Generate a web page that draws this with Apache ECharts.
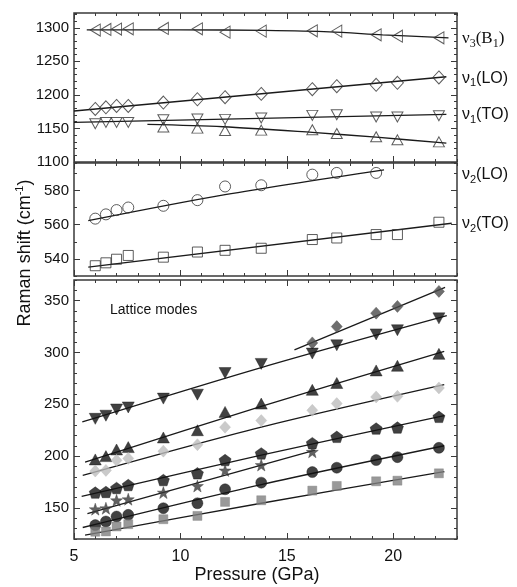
<!DOCTYPE html>
<html>
<head>
<meta charset="utf-8">
<script src="https://cdn.jsdelivr.net/npm/echarts@6/dist/echarts.min.js"></script>
<style>
  html, body { margin: 0; padding: 0; background: #fff; }
  #chart { width: 517px; height: 587px; }
</style>
</head>
<body>
<div id="chart"></div>
<script>
// pressures (GPa) of the measured spectra
const pressure = [6.0, 6.5, 7.0, 7.55, 9.2, 10.8, 12.1, 13.8, 16.2, 17.35, 19.2, 20.2, 22.15];
const pressureLate = [9.2, 10.8, 12.1, 13.8, 16.2, 17.35, 19.2, 20.2, 22.15];
const pressureHigh = [16.2, 17.35, 19.2, 20.2, 22.15];

// top panel: internal stretching modes
const v3B1 = [1296.5, 1297.5, 1298, 1298.5, 1299, 1298.5, 1293.5, 1295, 1295.5, 1295, 1289.5, 1287.5, 1285];
const v1LO = [1179, 1181.5, 1183.5, 1183.5, 1188.5, 1193.5, 1196.5, 1201.5, 1208.5, 1213, 1215, 1218, 1226];
const v1TO = [1157, 1159, 1159, 1159, 1163, 1164, 1163.5, 1165.5, 1169.5, 1170.5, 1167, 1167, 1169];
const v1TOsplit = [1152, 1150.5, 1147, 1147.5, 1148, 1142.5, 1137.5, 1133, 1130];

// middle panel: bending modes
const v2LO = [563.5, 566, 568.5, 570, 571, 574.3, 582.3, 583, 589.2, 590.2, 590.2];
const v2TO = [536, 537.7, 539.8, 542, 541, 544, 545, 546.2, 551.3, 552.2, 554.2, 554.2, 561.4];

// bottom panel: lattice modes
const latDiamondDark = [309.3, 325, 338, 344.5, 359];
const latDown = [236, 239, 245, 247, 255.5, 259.3, 280.2, 289, 299, 307, 317.5, 321.5, 333];
const latUp = [196.8, 200, 206.4, 208.7, 218, 225, 242.7, 250.7, 264, 270.6, 282.7, 287.2, 298.7];
const latDiamondLight = [185.6, 186.2, 195.9, 197.8, 204.8, 211, 227.9, 234.3, 244.2, 250.7, 257.1, 257.7, 265.8];
const latPent = [164.8, 165.4, 169.2, 172.1, 176.9, 183.4, 196.2, 202.6, 212.5, 218.6, 226.6, 227.6, 237.9];
const latStar = [148.8, 149.7, 157.4, 158.4, 164.8, 171.2, 186.2, 191.4, 204.2];
const latCircle = [133.4, 136.9, 141.7, 143.3, 149.7, 154.5, 168, 174.4, 184.6, 188.8, 196.2, 199, 208];
const latSquare = [127, 127.3, 132.1, 134.3, 139.1, 142.3, 155.8, 157.4, 166.7, 171.2, 175.7, 176.3, 183.4];

// fitted curves, [pressure, shift]
const fitV3B1 = [[5.6, 1297], [10, 1297], [14, 1296], [17, 1294], [19.5, 1289.5], [22.6, 1285]];
const fitV1LO = [[5, 1176], [22.5, 1227]];
const fitV1TO = [[5, 1159], [22.5, 1171]];
const fitV1TOsplit = [[8.45, 1156], [12, 1152.5], [16.2, 1144], [19.2, 1137], [22.5, 1128]];
const fitV2LO = [[5.67, 562.3], [12.1, 577.5], [19.57, 592]];
const fitV2TO = [[5.67, 535.2], [22.75, 560.8]];
const fitDiamondDark = [[15.36, 302.6], [22.44, 362.9]];
const fitDown = [[5.39, 233], [13.8, 285.5], [22.52, 335.6]];
const fitUp = [[5.52, 194.2], [13.8, 248], [22.4, 301]];
const fitDiamondLight = [[5.41, 181.4], [13.8, 228], [22.4, 269]];
const fitPent = [[5.36, 161.2], [13.8, 201], [22.4, 239.1]];
const fitStar = [[5.63, 144.6], [16.33, 205.8]];
const fitCircle = [[5.41, 131.1], [13.8, 172.5], [22.4, 210]];
const fitSquare = [[5.52, 123.8], [13.8, 154.5], [22.4, 185]];

// axis ticks
const xLabels = [5, 10, 15, 20];
const yTopLabels = [1100, 1150, 1200, 1250, 1300];
const yMidLabels = [540, 560, 580];
const yBotLabels = [150, 200, 250, 300, 350];

// mode names at the right side
const sideText = ['ν{s|3}(B{s|1})', 'ν{s|1}(LO)', 'ν{s|1}(TO)', 'ν{s|2}(LO)', 'ν{s|2}(TO)'];
const sideGrid = [0, 0, 0, 1, 1];
const sideValue = [1284, 1225, 1170, 589, 560.5];

const FONT = '"Liberation Sans", Arial, sans-serif';
const SERIF = '"Liberation Serif", "Times New Roman", serif';
const AX = '#3a3a3a';

const chart = echarts.init(document.getElementById('chart'));

const grids = [
  { left: 74, right: 60, top: 13, height: 149 },
  { left: 74, right: 60, top: 163, height: 113 },
  { left: 74, right: 60, top: 280, height: 259 }
].map(g => Object.assign(g, { show: true, borderColor: AX, borderWidth: 1.5, backgroundColor: 'transparent' }));

const yDefs = [
  { min: 1100, max: 1322, minor: 10, labels: yTopLabels },
  { min: 530, max: 596, minor: 10, labels: yMidLabels },
  { min: 120, max: 370, minor: 10, labels: yBotLabels }
];

const xAxis = [];
const yAxis = [];
for (let g = 0; g < 3; g++) {
  const bx = { type: 'value', gridIndex: g, min: 5, max: 23, splitLine: { show: false }, axisLine: { show: false } };
  // minor ticks, bottom (carries the labels on the last panel)
  xAxis.push(Object.assign({}, bx, {
    position: 'bottom', interval: 1,
    axisTick: { inside: true, length: 3, lineStyle: { color: AX } },
    axisLabel: g === 2 ? { customValues: xLabels, fontSize: 16, color: '#111', margin: 10, fontFamily: FONT } : { show: false }
  }));
  xAxis.push(Object.assign({}, bx, {
    position: 'bottom',
    axisTick: { inside: true, length: 6, customValues: xLabels, lineStyle: { color: AX } },
    axisLabel: { show: false }
  }));
  xAxis.push(Object.assign({}, bx, {
    position: 'top', interval: 1,
    axisTick: { inside: true, length: 3, lineStyle: { color: AX } },
    axisLabel: { show: false }
  }));
  xAxis.push(Object.assign({}, bx, {
    position: 'top',
    axisTick: { inside: true, length: 6, customValues: xLabels, lineStyle: { color: AX } },
    axisLabel: { show: false }
  }));

  const d = yDefs[g];
  const by = { type: 'value', gridIndex: g, min: d.min, max: d.max, splitLine: { show: false }, axisLine: { show: false } };
  yAxis.push(Object.assign({}, by, {
    position: 'left', interval: d.minor,
    axisTick: { inside: true, length: 3, lineStyle: { color: AX } },
    axisLabel: { customValues: d.labels, fontSize: 15, color: '#111', margin: 5, fontFamily: FONT, formatter: v => String(v) }
  }));
  yAxis.push(Object.assign({}, by, {
    position: 'left',
    axisTick: { inside: true, length: 6, customValues: d.labels, lineStyle: { color: AX } },
    axisLabel: { show: false }
  }));
  yAxis.push(Object.assign({}, by, {
    position: 'right', interval: d.minor,
    axisTick: { inside: true, length: 3, lineStyle: { color: AX } },
    axisLabel: { show: false }
  }));
  yAxis.push(Object.assign({}, by, {
    position: 'right',
    axisTick: { inside: true, length: 6, customValues: d.labels, lineStyle: { color: AX } },
    axisLabel: { show: false }
  }));
}

const pentagon = 'path://M0,-10L9.51,-3.09L5.88,8.09L-5.88,8.09L-9.51,-3.09Z';
const star = 'path://M0,-10L2.35,-3.24L9.51,-3.09L3.8,1.24L5.88,8.09L0,4L-5.88,8.09L-3.8,1.24L-9.51,-3.09L-2.35,-3.24Z';

function pts(xs, ys) {
  return ys.map((y, i) => [xs[i], y]);
}

function openMarks(g, xs, ys, symbol, size, rotate) {
  return {
    type: 'scatter', xAxisIndex: g * 4, yAxisIndex: g * 4, data: pts(xs, ys),
    symbol: symbol, symbolSize: size, symbolRotate: rotate || 0, z: 3,
    itemStyle: { color: 'rgba(0,0,0,0)', borderColor: '#333', borderWidth: 1 },
    emphasis: { disabled: true }
  };
}

function filledMarks(g, xs, ys, symbol, size, color, rotate) {
  return {
    type: 'scatter', xAxisIndex: g * 4, yAxisIndex: g * 4, data: pts(xs, ys),
    symbol: symbol, symbolSize: size, symbolRotate: rotate || 0, z: 3,
    itemStyle: { color: color, borderColor: color, borderWidth: 0.5 },
    emphasis: { disabled: true }
  };
}

function fit(g, data, smooth) {
  return {
    type: 'line', xAxisIndex: g * 4, yAxisIndex: g * 4, data: data,
    showSymbol: false, smooth: smooth || false, z: 2,
    lineStyle: { color: '#1a1a1a', width: 1.3 },
    emphasis: { disabled: true }
  };
}

const series = [
  fit(0, fitV3B1, 0.3), fit(0, fitV1LO), fit(0, fitV1TO), fit(0, fitV1TOsplit, 0.3),
  openMarks(0, pressure, v3B1, 'triangle', [12, 10], 90),
  openMarks(0, pressure, v1LO, 'diamond', [12, 13]),
  openMarks(0, pressure, v1TO, 'triangle', [11, 10], 180),
  openMarks(0, pressureLate, v1TOsplit, 'triangle', [11, 10]),

  fit(1, fitV2LO, 0.3), fit(1, fitV2TO),
  openMarks(1, pressure, v2LO, 'circle', 11),
  openMarks(1, pressure, v2TO, 'rect', 10),

  fit(2, fitDiamondDark), fit(2, fitDown, 0.3), fit(2, fitUp, 0.3), fit(2, fitDiamondLight, 0.3),
  fit(2, fitPent, 0.3), fit(2, fitStar), fit(2, fitCircle, 0.3), fit(2, fitSquare, 0.3),
  filledMarks(2, pressureHigh, latDiamondDark, 'diamond', [11, 12], '#4a4a4a'),
  filledMarks(2, pressure, latDown, 'triangle', [12, 11], '#111', 180),
  filledMarks(2, pressure, latUp, 'triangle', [12, 11], '#111'),
  filledMarks(2, pressure, latDiamondLight, 'diamond', [11, 12], '#bdbdbd'),
  filledMarks(2, pressure, latPent, pentagon, [12, 11.5], '#111'),
  filledMarks(2, pressure, latStar, star, [12, 12], '#3a3a3a'),
  filledMarks(2, pressure, latCircle, 'circle', 11, '#111'),
  filledMarks(2, pressure, latSquare, 'rect', 9, '#808080')
];

chart.setOption({
  animation: false,
  backgroundColor: '#fff',
  grid: grids,
  xAxis: xAxis,
  yAxis: yAxis,
  series: series
});

// texts: axis titles, panel note, mode names placed at their values
const graphic = [
  {
    type: 'text', x: 25, y: 253, rotation: Math.PI / 2,
    style: {
      text: 'Raman shift (cm{sup|-1})', fontSize: 18, fontFamily: FONT, fill: '#111',
      align: 'center', verticalAlign: 'middle',
      rich: { sup: { fontSize: 11, fontFamily: FONT, fill: '#111', padding: [0, 0, 10, 0] } }
    }
  },
  {
    type: 'text', x: 257, y: 575,
    style: { text: 'Pressure (GPa)', fontSize: 18, fontFamily: FONT, fill: '#111', align: 'center', verticalAlign: 'middle' }
  },
  {
    type: 'text', x: 110, y: 310,
    style: { text: 'Lattice modes', fontSize: 14, fontFamily: FONT, fill: '#111', align: 'left', verticalAlign: 'middle' }
  }
];
sideText.forEach((t, i) => {
  const y = chart.convertToPixel({ yAxisIndex: sideGrid[i] * 4 }, sideValue[i]);
  const serif = i === 0;
  const fam = serif ? SERIF : FONT;
  graphic.push({
    type: 'text', x: 462, y: y,
    style: {
      text: t, fontSize: serif ? 17 : 16, fontFamily: fam, fill: '#111',
      align: 'left', verticalAlign: 'middle',
      rich: { s: { fontSize: serif ? 12 : 11, fontFamily: fam, fill: '#111', padding: [10, 0, 0, 0] } }
    }
  });
});
chart.setOption({ graphic: graphic });
</script>
</body>
</html>
